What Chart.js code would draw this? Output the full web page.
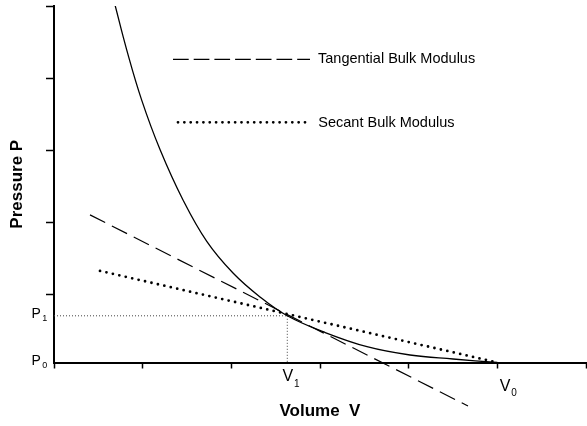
<!DOCTYPE html>
<html><head><meta charset="utf-8">
<script src="https://cdn.jsdelivr.net/npm/chart.js@4"></script>
<style>html,body{margin:0;padding:0;background:#fff}#wrap{width:587px;height:426px;position:relative}</style>
</head><body><div id="wrap"><canvas id="c"></canvas></div>
<script>
// ---- data ----
const curveV = [0.688, 0.820, 0.989, 1.198, 1.455, 1.725, 2.019, 2.323, 2.631, 3.034, 3.530, 4.015, 4.500, 5.0];
const curveP = [100.3, 87.7, 73.6, 59.6, 45.6, 33.9, 25.1, 18.4, 13.1, 8.64, 4.43, 2.10, 0.98, 0];
const tangentV = [0.406, 4.669];
const tangentP = [41.4, -12.2];
const secantV = [0.519, 5.0];
const secantP = [25.7, 0];
const V1 = 2.631, P1 = 13.1, V0 = 5, P0 = 0;
const xTicks = [0, 1, 2, 3, 4, 5, 6];
const yTicks = [19.2, 39.4, 59.6, 79.8, 100];
const legendLabels = ['Tangential Bulk Modulus', 'Secant Bulk Modulus'];
const xAxisTitle = 'Volume  V';
const yAxisTitle = 'Pressure P';
const xLabels = [{base: 'V', sub: '1', value: V1}, {base: 'V', sub: '0', value: V0}];
const yLabels = [{base: 'P', sub: '1', value: P1}, {base: 'P', sub: '0', value: P0}];

const FONT = '"Liberation Sans", Arial, Helvetica, sans-serif';
const pts = (xs, ys) => xs.map((v, i) => ({x: v, y: ys[i]}));

const annot = {
  id: 'annot',
  afterDraw(chart) {
    const {ctx, scales: {x, y}} = chart;
    ctx.save();
    ctx.fillStyle = '#000';
    ctx.textBaseline = 'alphabetic';
    ctx.textAlign = 'left';
    // y-axis labels P1, P0
    yLabels.forEach(l => {
      const py = y.getPixelForValue(l.value);
      ctx.font = '14px ' + FONT;
      ctx.fillText(l.base, 31.5, py + 2);
      ctx.font = '9px ' + FONT;
      ctx.fillText(l.sub, 42.3, py + 5.2);
    });
    // x-axis labels V1, V0
    xLabels.forEach((l, i) => {
      const px = x.getPixelForValue(l.value);
      ctx.font = '16px ' + FONT;
      const w = ctx.measureText(l.base).width;
      const left = i === 0 ? px - w / 2 + 0.5 : px + 2.3;
      const base = i === 0 ? 381 : 390.5;
      ctx.fillText(l.base, left, base);
      ctx.font = '10px ' + FONT;
      ctx.fillText(l.sub, left + w + 1, base + 5.8);
    });
    // legend
    ctx.strokeStyle = '#000';
    ctx.lineWidth = 1.3;
    ctx.setLineDash([15.7, 5]);
    ctx.beginPath(); ctx.moveTo(173, 59.3); ctx.lineTo(310, 59.3); ctx.stroke();
    ctx.setLineDash([0, 6.35]);
    ctx.lineCap = 'round';
    ctx.lineWidth = 2.8;
    ctx.beginPath(); ctx.moveTo(178, 122.3); ctx.lineTo(305, 122.3); ctx.stroke();
    ctx.setLineDash([]);
    ctx.font = '14.5px ' + FONT;
    ctx.fillText(legendLabels[0], 318, 63);
    ctx.fillText(legendLabels[1], 318.3, 126.7);
    ctx.restore();
  }
};

new Chart(document.getElementById('c'), {
  type: 'line',
  data: {
    datasets: [
      {data: pts(curveV, curveP), borderColor: '#000', borderWidth: 1.3, pointRadius: 0, tension: 0.4, fill: false},
      {data: pts(tangentV, tangentP), borderColor: '#000', borderWidth: 1.2, borderDash: [17, 7.5], pointRadius: 0, clip: false, fill: false},
      {data: pts(secantV, secantP), borderColor: '#000', borderWidth: 2.8, borderDash: [0, 6.6], borderCapStyle: 'round', pointRadius: 0, clip: false, fill: false},
      {data: pts([0, V1], [P1, P1]), borderColor: '#444', borderWidth: 1, borderDash: [1, 2], pointRadius: 0, fill: false},
      {data: pts([V1, V1], [P1, P0]), borderColor: '#444', borderWidth: 1, borderDash: [1, 2], pointRadius: 0, fill: false}
    ]
  },
  options: {
    responsive: true,
    maintainAspectRatio: false,
    animation: false,
    layout: {padding: {top: 6, right: 1, left: 0, bottom: 0}},
    plugins: {legend: {display: false}, tooltip: {enabled: false}},
    scales: {
      x: {
        type: 'linear', min: 0, max: 6,
        afterBuildTicks: s => { s.ticks = xTicks.map(v => ({value: v})); },
        afterFit: s => { s.height = 63.5; },
        ticks: {display: false},
        grid: {drawOnChartArea: false, drawTicks: true, tickLength: 6, tickWidth: 1.5, tickColor: '#000', color: '#000'},
        border: {display: true, color: '#000', width: 2},
        title: {display: true, text: xAxisTitle, color: '#000', font: {family: FONT, size: 17, weight: 'bold'}, padding: {top: 0, bottom: 4.3}}
      },
      y: {
        type: 'linear', min: 0, max: 100,
        afterBuildTicks: s => { s.ticks = yTicks.map(v => ({value: v})); },
        afterFit: s => { s.width = 54; },
        ticks: {display: false},
        grid: {drawOnChartArea: false, drawTicks: true, tickLength: 8, tickWidth: 1.5, tickColor: '#000', color: '#000'},
        border: {display: true, color: '#000', width: 2},
        title: {display: true, text: yAxisTitle, color: '#000', font: {family: FONT, size: 17, weight: 'bold'}, padding: {top: 7.3, bottom: 0}}
      }
    }
  },
  plugins: [annot]
});
</script>
</body></html>
